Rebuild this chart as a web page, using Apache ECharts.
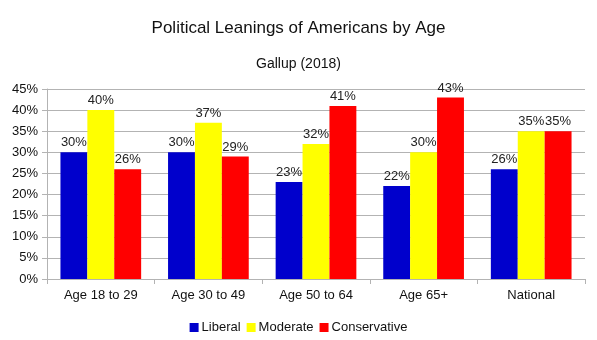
<!DOCTYPE html>
<html><head><meta charset="utf-8">
<script src="https://cdn.jsdelivr.net/npm/echarts@6/dist/echarts.min.js"></script>
<style>html,body{margin:0;padding:0;background:#fff}#c{width:597px;height:340px}</style>
</head><body><div id="c"></div>
<script>
const categories = ['Age 18 to 29','Age 30 to 49','Age 50 to 64','Age 65+','National'];
const liberal = [30,30,23,22,26];
const moderate = [40,37,32,30,35];
const conservative = [26,29,41,43,35];
const seriesNames = ['Liberal','Moderate','Conservative'];
const colors = ['#0000cc','#ffff00','#ff0000'];
const F = '"Liberation Sans", Arial, sans-serif';
const chart = echarts.init(document.getElementById('c'));
const lbl = {show:true, position:'top', formatter:'{c}%', color:'#222', fontFamily:F, fontSize:13, distance:3};
chart.setOption({
  animation:false,
  title:[
    {text:'Political Leanings of Americans by Age', left:'center', top:15, textStyle:{fontFamily:F, fontSize:17, fontWeight:'normal', color:'#111'}},
    {text:'Gallup (2018)', left:'center', top:52, textStyle:{fontFamily:F, fontSize:14, fontWeight:'normal', color:'#111'}}
  ],
  legend:{bottom:1, left:'center', itemWidth:9, itemHeight:9, itemGap:6, icon:'rect',
    textStyle:{fontFamily:F, fontSize:13, color:'#111', padding:[0,0,0,-2]}, data:seriesNames},
  grid:{left:47, right:12, top:89, bottom:61, containLabel:false},
  xAxis:{type:'category', data:categories,
    axisLine:{lineStyle:{color:'#b3b3b3'}},
    axisTick:{show:true, length:5, lineStyle:{color:'#b3b3b3'}},
    axisLabel:{color:'#111', fontFamily:F, fontSize:13, margin:10}},
  yAxis:{type:'value', min:0, max:45, interval:5,
    axisLabel:{formatter:'{value}%', color:'#111', fontFamily:F, fontSize:13, margin:9},
    axisLine:{show:true, lineStyle:{color:'#b3b3b3'}},
    axisTick:{show:true, length:5, lineStyle:{color:'#b3b3b3'}},
    splitLine:{lineStyle:{color:'#b3b3b3'}}},
  series:[
    {name:seriesNames[0], type:'bar', data:liberal, itemStyle:{color:colors[0]}, barGap:'0%', barCategoryGap:'25%', label:lbl},
    {name:seriesNames[1], type:'bar', data:moderate, itemStyle:{color:colors[1]}, label:lbl},
    {name:seriesNames[2], type:'bar', data:conservative, itemStyle:{color:colors[2]}, label:lbl}
  ]
});
</script></body></html>
